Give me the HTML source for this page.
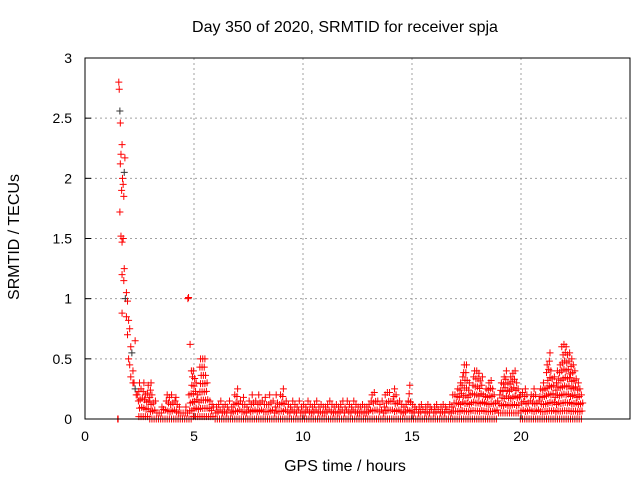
<!DOCTYPE html>
<html><head><meta charset="utf-8"><style>
body{margin:0;background:#fff;}
svg{display:block;font-family:"Liberation Sans",sans-serif;}
</style></head><body>
<svg id="chart" width="640" height="480" viewBox="0 0 640 480">
<rect width="640" height="480" fill="#fff"/>
<text x="345" y="32" font-size="16" text-anchor="middle">Day 350 of 2020, SRMTID for receiver spja</text>
<text x="345" y="471" font-size="16" text-anchor="middle">GPS time / hours</text>
<text transform="translate(19,237) rotate(-90)" font-size="16" text-anchor="middle">SRMTID / TECUs</text>
<g id="grid"></g>
<g id="axes"></g>
<g id="marks"></g>
<rect x="85" y="58" width="545" height="361" fill="none" stroke="#000" stroke-width="1"/>
</svg>
<script>
const xTicks=[0,5,10,15,20];
const yTicks=[0,0.5,1,1.5,2,2.5,3];
const yTickLabels=["0","0.5","1","1.5","2","2.5","3"];
// isolated samples (hours, TECU)
const burstT=[1.5,1.52,1.55,1.57,1.6,1.62,1.65,1.62,1.7,1.72,1.75,1.68,1.78,1.8,1.83,1.6,1.65,1.7,1.75,1.8,1.7,1.78,1.85,1.9,1.95,1.7,1.9,2.0,2.05,2.1,2.0,2.15,2.2,2.3,2.25,2.4,1.95,2.05,2.1,2.2,2.3,2.35,2.45,4.72,4.75,4.82,4.88];
const burstV=[0.0,0.0,2.8,2.74,2.56,2.46,2.2,2.12,2.28,2.0,1.95,1.9,1.85,2.05,2.17,1.72,1.52,1.47,1.5,1.25,1.2,1.15,1.0,1.05,0.98,0.88,0.85,0.82,0.75,0.6,0.5,0.55,0.4,0.65,0.3,0.2,0.7,0.45,0.35,0.3,0.25,0.2,0.15,1.0,1.01,0.62,0.4];
// sampled envelope every 0.1 h from 2.5 h
const startT=2.5;
const stepT=0.1;
const hiV=[0.3,0.25,0.3,0.2,0.28,
0.3,0.2,0.15,0.05,0.05,0.1,0.08,0.15,0.2,0.18,
0.2,0.15,0.18,0.1,0.05,0.05,0.1,0.05,0.2,0.35,
0.4,0.3,0.2,0.5,0.5,0.5,0.3,0.15,0.12,0.1,
0.1,0.12,0.15,0.1,0.12,0.1,0.15,0.1,0.12,0.2,
0.25,0.15,0.12,0.18,0.1,0.15,0.12,0.2,0.15,0.12,
0.2,0.15,0.12,0.18,0.12,0.2,0.15,0.1,0.2,0.12,
0.2,0.25,0.15,0.12,0.1,0.15,0.12,0.1,0.15,0.1,
0.12,0.1,0.15,0.12,0.1,0.12,0.15,0.1,0.12,0.1,
0.1,0.12,0.15,0.12,0.1,0.12,0.1,0.12,0.15,0.1,
0.15,0.12,0.1,0.15,0.12,0.1,0.1,0.12,0.1,0.1,
0.12,0.15,0.2,0.22,0.15,0.12,0.15,0.1,0.2,0.22,
0.22,0.15,0.25,0.2,0.15,0.12,0.1,0.12,0.15,0.28,
0.12,0.1,0.08,0.1,0.12,0.08,0.1,0.12,0.1,0.08,
0.1,0.12,0.08,0.1,0.12,0.1,0.08,0.12,0.1,0.2,
0.2,0.25,0.3,0.35,0.45,0.45,0.3,0.2,0.35,0.4,
0.4,0.38,0.35,0.2,0.25,0.3,0.32,0.25,0.2,0.15,
0.2,0.3,0.35,0.4,0.3,0.35,0.38,0.4,0.3,0.25,
0.2,0.22,0.25,0.2,0.15,0.2,0.25,0.2,0.15,0.25,
0.3,0.25,0.45,0.55,0.4,0.35,0.3,0.4,0.45,0.6,
0.62,0.6,0.55,0.5,0.45,0.4,0.3,0.25,0.2];
const loHour=[0.02,0.0,0.0,0.02,0.0,0.0,0.0,0.0,0.0,0.0,0.0,0.0,0.0,0.0,0.0,0.0,0.0,0.05,0.0,0.0,0.0];

const NS="http://www.w3.org/2000/svg";
const X=t=>85+t*(545/25);
const Y=v=>419-v*(361/3);
const grid=document.getElementById('grid'),axes=document.getElementById('axes'),marks=document.getElementById('marks');
function mk(tag,at,parent){const e=document.createElementNS(NS,tag);for(const k in at)e.setAttribute(k,at[k]);parent.appendChild(e);return e;}
xTicks.forEach((t,i)=>{
  if(t>0){const g=mk('line',{x1:X(t),x2:X(t),y1:58,y2:419,stroke:'#a0a0a0','stroke-dasharray':'2,3'},grid);
  
  }
  const tk=mk('line',{x1:X(t),x2:X(t),y1:419,y2:413,stroke:'#000'},axes);
  
  
  const tx=mk('text',{x:X(t),y:441,'font-size':14,'text-anchor':'middle'},axes);
  tx.textContent=String(t);
  
  
});
yTicks.forEach((v,i)=>{
  if(v>0&&v<3){const g=mk('line',{x1:85,x2:630,y1:Y(v),y2:Y(v),stroke:'#a0a0a0','stroke-dasharray':'2,3'},grid);
  
  }
  const tk=mk('line',{x1:85,x2:91,y1:Y(v),y2:Y(v),stroke:'#000'},axes);
  
  
  const tx=mk('text',{x:72,y:Y(v)+5,'font-size':14,'text-anchor':'end'},axes);
  tx.textContent=yTickLabels[i];
  
  
});
function plus(t,v,col){
  const x=X(t),y=Y(v);
  const p=mk('path',{d:`M${x-3.5},${y}h7M${x},${y-3.5}v7`,stroke:col,'stroke-width':1,fill:'none'},marks);
  
  
}
burstT.forEach((t,i)=>plus(t,burstV[i],i%9===4?'#333':'#f00'));
hiV.forEach((h,i)=>{
  const t=startT+i*stepT;
  const lo=loHour[Math.min(loHour.length-1,Math.floor(t)-2)]||0;
  const ppx=Math.max(0,Y(lo)-Y(h));
  const n=Math.max(1,Math.round(ppx/8));
  for(let k=0;k<=n;k++){
    const v=lo+(h-lo)*k/n;
    plus(t+((k%3)-1)*0.03,v,'#f00');
  }
});
</script>
</body></html>
